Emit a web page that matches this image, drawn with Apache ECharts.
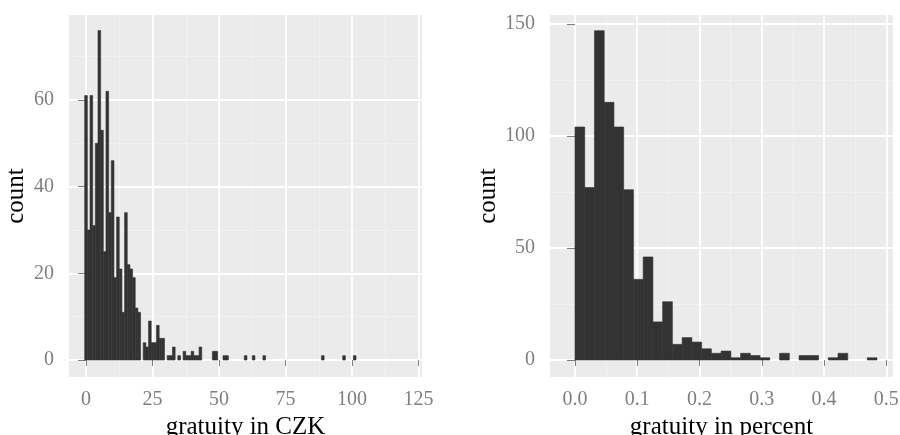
<!DOCTYPE html>
<html>
<head>
<meta charset="utf-8">
<script src="https://cdn.jsdelivr.net/npm/echarts@6/dist/echarts.min.js"></script>
<style>
  html, body { margin: 0; padding: 0; background: #fff; }
  #main { width: 900px; height: 435px; }
</style>
</head>
<body>
<div id="main"></div>
<script>
// gratuity in CZK, bins of width 1 centred on 0, 1, 2 ...
var czkCounts = [
  61, 30, 61, 31, 50, 76, 53, 25, 62, 34,
  46, 19, 33, 21, 11, 34, 22, 21, 19, 12,
  11, 0, 4, 3, 9, 4, 4, 8, 5, 5,
  0, 1, 1, 3, 0, 1, 0, 2, 1, 1,
  2, 1, 1, 3, 0, 0, 0, 0, 2, 2,
  0, 0, 1, 1, 0, 0, 0, 0, 0, 0,
  1, 0, 0, 1, 0, 0, 0, 1, 0, 0,
  0, 0, 0, 0, 0, 0, 0, 0, 0, 0,
  0, 0, 0, 0, 0, 0, 0, 0, 0, 1,
  0, 0, 0, 0, 0, 0, 0, 1, 0, 0,
  0, 1
];
// gratuity in percent, 31 bins from 0 to 0.485
var pctCounts = [
  104, 77, 147, 115, 104, 76, 36, 46, 17, 26,
  7, 10, 8, 5, 3, 4, 1, 3, 2, 1,
  0, 3, 0, 2, 2, 0, 1, 3, 0, 0,
  1
];
var pctBinWidth = 0.485 / 31;

var czkTicksX = [0, 25, 50, 75, 100, 125];
var czkMinorX = [12.5, 37.5, 62.5, 87.5, 112.5];
var czkTicksY = [0, 20, 40, 60];
var czkMinorY = [10, 30, 50, 70];
var pctTicksX = [0, 0.1, 0.2, 0.3, 0.4, 0.5];
var pctMinorX = [0.05, 0.15, 0.25, 0.35, 0.45];
var pctTicksY = [0, 50, 100, 150];
var pctMinorY = [25, 75, 125];

var chart = echarts.init(document.getElementById('main'), null, { renderer: 'canvas' });

var serif = 'Liberation Serif';
var greyTxt = '#7F7F7F';

function histItem(params, api) {
  var lo = api.value(0), hi = api.value(1), n = api.value(2);
  var p0 = api.coord([lo, n]);
  var p1 = api.coord([hi, 0]);
  return {
    type: 'rect',
    shape: { x: p0[0], y: p0[1], width: p1[0] - p0[0], height: p1[1] - p0[1] },
    style: { fill: '#333333', stroke: '#333333', lineWidth: 0.6 }
  };
}

function majorAxis(grid, ticks, min, max, name, gap, fmt, isY) {
  return {
    type: 'value', gridIndex: grid, min: min, max: max,
    name: name, nameLocation: 'middle', nameGap: gap,
    nameTextStyle: { color: '#000', fontSize: 25, fontFamily: serif },
    axisLine: { show: false },
    axisTick: { show: true, length: isY ? 8 : 6, customValues: ticks, lineStyle: { color: greyTxt, width: 1 } },
    axisLabel: { customValues: ticks, margin: isY ? 15 : 13, color: greyTxt, fontSize: 20, fontFamily: serif, formatter: fmt },
    splitLine: { show: true, lineStyle: { color: '#FFFFFF', width: 1.8 } },
    z: 1
  };
}
function minorAxis(grid, ticks, min, max) {
  return {
    type: 'value', gridIndex: grid, min: min, max: max,
    axisLine: { show: false },
    axisTick: { show: false, customValues: ticks },
    axisLabel: { show: false },
    splitLine: { show: true, lineStyle: { color: '#F4F4F4', width: 0.8 } },
    z: 0
  };
}

var czkData = [];
czkCounts.forEach(function (n, k) {
  if (n > 0) czkData.push([k - 0.5, k + 0.5, n]);
});
var pctData = [];
pctCounts.forEach(function (n, k) {
  if (n > 0) pctData.push([k * pctBinWidth, (k + 1) * pctBinWidth, n]);
});

var option = {
  backgroundColor: '#FFFFFF',
  animation: false,
  grid: [
    { left: 69, top: 15, width: 353, height: 362, show: true, backgroundColor: '#EBEBEB', borderWidth: 0, containLabel: false, outerBoundsMode: 'none' },
    { left: 550, top: 15, width: 343, height: 362, show: true, backgroundColor: '#EBEBEB', borderWidth: 0, containLabel: false, outerBoundsMode: 'none' }
  ],
  xAxis: [
    majorAxis(0, czkTicksX, -6.4, 126.3, 'gratuity in CZK', 35, function (v) { return String(v); }, false),
    minorAxis(0, czkMinorX, -6.4, 126.3),
    majorAxis(1, pctTicksX, -0.0401, 0.5107, 'gratuity in percent', 35, function (v) { return v.toFixed(1); }, false),
    minorAxis(1, pctMinorX, -0.0401, 0.5107)
  ],
  yAxis: [
    majorAxis(0, czkTicksY, -3.92, 79.6, 'count', 40, function (v) { return String(v); }, true),
    minorAxis(0, czkMinorY, -3.92, 79.6),
    majorAxis(1, pctTicksY, -7.59, 154.0, 'count', 48, function (v) { return String(v); }, true),
    minorAxis(1, pctMinorY, -7.59, 154.0)
  ],
  series: [
    {
      type: 'custom', xAxisIndex: 0, yAxisIndex: 0,
      renderItem: histItem, data: czkData,
      encode: { x: [0, 1], y: 2 }, z: 5, silent: true
    },
    {
      type: 'custom', xAxisIndex: 2, yAxisIndex: 2,
      renderItem: histItem, data: pctData,
      encode: { x: [0, 1], y: 2 }, z: 5, silent: true
    }
  ]
};
chart.setOption(option);
</script>
</body>
</html>
